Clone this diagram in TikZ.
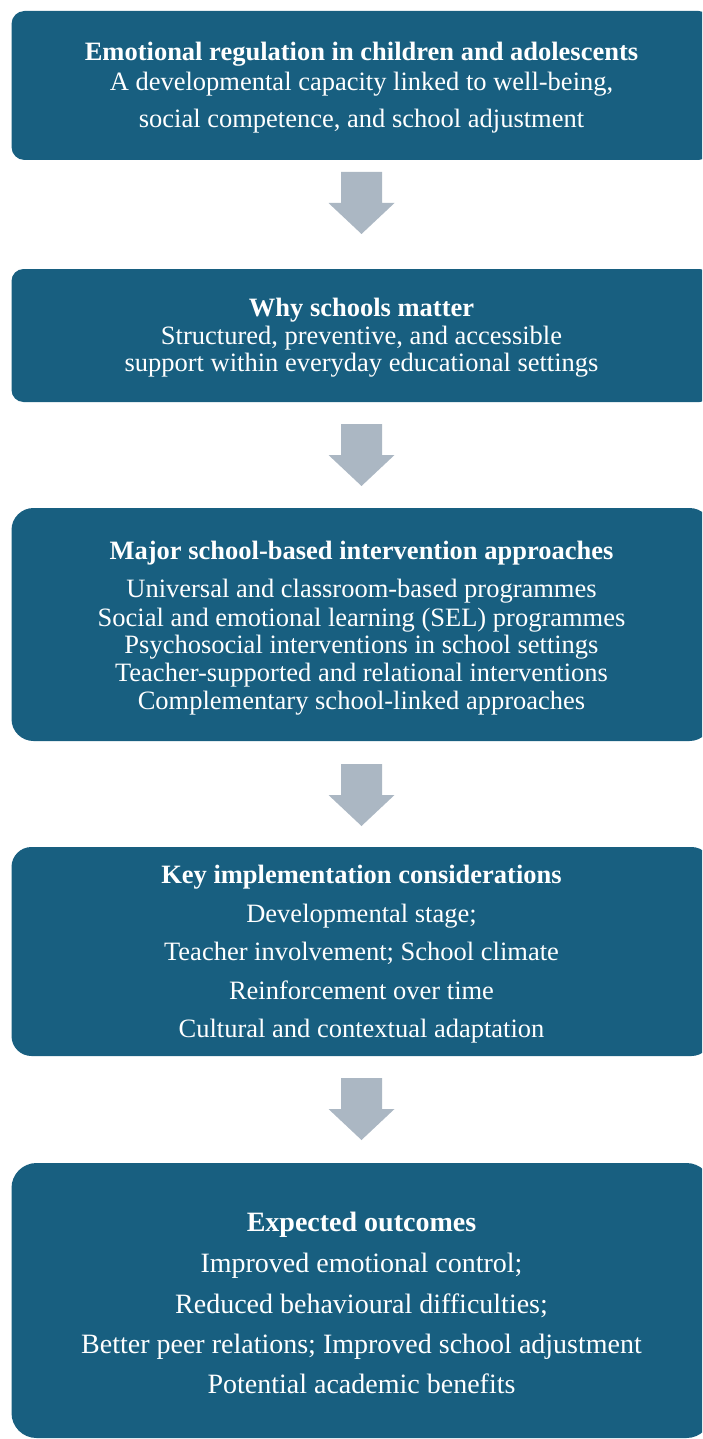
\documentclass[tikz,border=0pt]{standalone}
\usepackage{fontspec}
\setmainfont{Liberation Serif}
\definecolor{boxblue}{HTML}{185F80}
\definecolor{arrowgray}{HTML}{ABB7C3}
\tikzset{
  x=1pt, y=-1pt,
  panel/.style={fill=boxblue, draw=none, minimum width=700pt, inner sep=0pt},
  head/.style={text=white, anchor=base, font=\fontsize{26.5}{30}\selectfont\bfseries, inner sep=0pt},
  body/.style={text=white, anchor=base, font=\fontsize{26.5}{30}\selectfont, inner sep=0pt},
  bighead/.style={head, font=\fontsize{28}{32}\selectfont\bfseries},
  bigbody/.style={body, font=\fontsize{28}{32}\selectfont},
  downarrow/.pic={
    \fill[arrowgray] (-20.5,0) -- (20.5,0) -- (20.5,31) -- (33,31) -- (0,62)
      -- (-33,31) -- (-20.5,31) -- cycle;
  }
}
\begin{document}
\begin{tikzpicture}
\useasboundingbox (0,0) rectangle (702,1439);
\clip (0,0) rectangle (702,1439);

% panels
\node[panel, minimum height=149pt, rounded corners=13pt] (b1) at (361.5,85.5) {};
\node[panel, minimum height=133pt, rounded corners=12pt] (b2) at (361.5,335.5) {};
\node[panel, minimum height=233pt, rounded corners=22pt] (b3) at (361.5,624.5) {};
\node[panel, minimum height=209pt, rounded corners=20pt] (b4) at (361.5,951.5) {};
\node[panel, minimum height=275pt, rounded corners=25pt] (b5) at (361.5,1300.5) {};

% arrows between panels
\pic (a1) at (361.5,172) {downarrow};
\pic (a2) at (361.5,424) {downarrow};
\pic (a3) at (361.5,764) {downarrow};
\pic (a4) at (361.5,1078) {downarrow};

% panel 1
\node[head] (t1) at (361.5,61) {Emotional regulation in children and adolescents};
\node[body] (t1a) at (361.5,91) {A developmental capacity linked to well-being,};
\node[body] (t1b) at (361.5,128) {social competence, and school adjustment};

% panel 2
\node[head] (t2) at (361.5,316) {Why schools matter};
\node[body] (t2a) at (361.5,344) {Structured, preventive, and accessible};
\node[body] (t2b) at (361.5,371) {support within everyday educational settings};

% panel 3
\node[head] (t3) at (361.5,559) {Major school-based intervention approaches};
\node[body] (t3a) at (361.5,597) {Universal and classroom-based programmes};
\node[body] (t3b) at (361.5,626) {Social and emotional learning (SEL) programmes};
\node[body] (t3c) at (361.5,653) {Psychosocial interventions in school settings};
\node[body] (t3d) at (361.5,681) {Teacher-supported and relational interventions};
\node[body] (t3e) at (361.5,709) {Complementary school-linked approaches};

% panel 4
\node[head] (t4) at (361.5,883) {Key implementation considerations};
\node[body] (t4a) at (361.5,922) {Developmental stage;};
\node[body] (t4b) at (361.5,960) {Teacher involvement; School climate};
\node[body] (t4c) at (361.5,999) {Reinforcement over time};
\node[body] (t4d) at (361.5,1037) {Cultural and contextual adaptation};

% panel 5
\node[bighead] (t5) at (361.5,1231) {Expected outcomes};
\node[bigbody] (t5a) at (361.5,1272) {Improved emotional control;};
\node[bigbody] (t5b) at (361.5,1313) {Reduced behavioural difficulties;};
\node[bigbody] (t5c) at (361.5,1353) {Better peer relations; Improved school adjustment};
\node[bigbody] (t5d) at (361.5,1393) {Potential academic benefits};
\end{tikzpicture}
\end{document}
